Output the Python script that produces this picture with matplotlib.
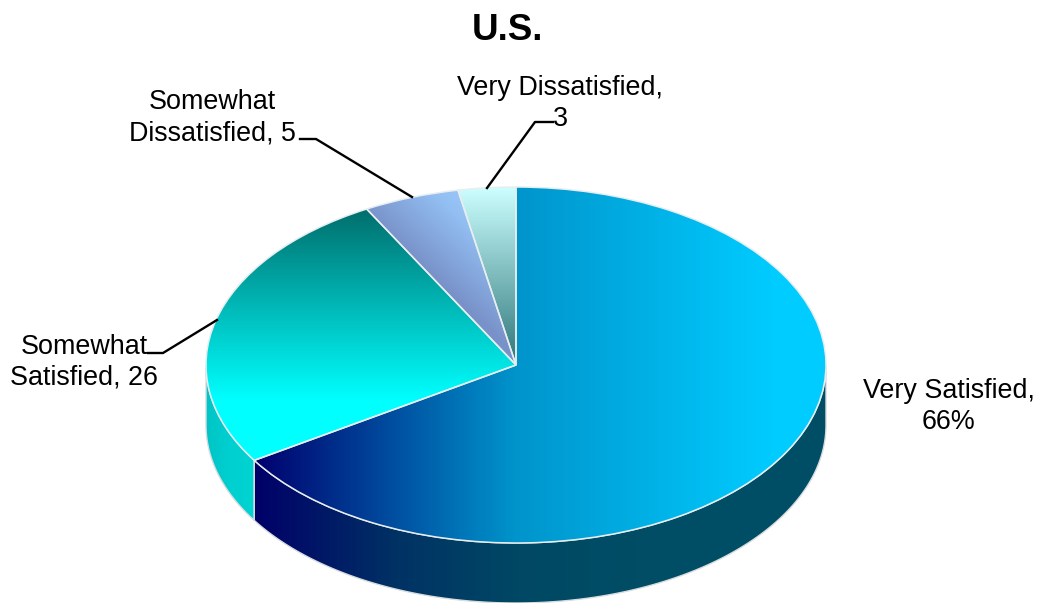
import numpy as np
import matplotlib
matplotlib.use('Agg')
import matplotlib.pyplot as plt
from matplotlib.colors import LinearSegmentedColormap
from matplotlib.lines import Line2D
from matplotlib.patches import Polygon

plt.rcParams['font.family'] = ['Liberation Sans', 'DejaVu Sans']

# data
categories = ['Very Satisfied', 'Somewhat Satisfied', 'Somewhat Dissatisfied', 'Very Dissatisfied']
values = [66, 26, 5, 3]
title = 'U.S.'

W, H = 1039, 603
CX, CY = 516, 365
RX, RY = 310, 178
DEPTH = 60 / RY

fig = plt.figure(figsize=(W / 100, H / 100), dpi=100)
ax = fig.add_axes([0, 0, 1, 1])
wedges, _ = ax.pie(values, startangle=90, counterclock=False, radius=1,
                   wedgeprops={'edgecolor': '#e8eef0', 'linewidth': 1.1, 'facecolor': 'none', 'zorder': 5})
ax.set_aspect('auto')
xlim = (-CX / RX, (W - CX) / RX)
ylim = (-(H - CY) / RY, CY / RY)

xx, yy = np.meshgrid(np.arange(W) + 0.5, np.arange(H) + 0.5)


def rgb(*c):
    return tuple(v / 255 for v in c)


def paint(patch, p0, p1, positions, colors, z):
    # linear gradient between two pixel points, clipped to the patch
    dx, dy = p1[0] - p0[0], p1[1] - p0[1]
    t = ((xx - p0[0]) * dx + (yy - p0[1]) * dy) / (dx * dx + dy * dy)
    cmap = LinearSegmentedColormap.from_list('g', list(zip(positions, colors)), N=512)
    im = ax.imshow(np.clip(t, 0, 1), cmap=cmap, vmin=0, vmax=1, extent=(*xlim, *ylim),
                   aspect='auto', origin='upper', interpolation='bilinear', zorder=z)
    im.set_clip_path(patch)


def side_patch(t1, t2):
    # outer wall between two angles of the lower half of the ellipse
    a = np.radians(np.linspace(t1, t2, 200))
    top = np.column_stack([np.cos(a), np.sin(a)])
    bottom = top[::-1] - [0, DEPTH]
    p = Polygon(np.vstack([top, bottom]), closed=True, facecolor='none',
                edgecolor='#d8dcde', linewidth=1.0, zorder=3)
    ax.add_patch(p)
    return p


# the slices run clockwise from the top, so only the first two reach the front wall
boundary = 90 - 360 * values[0] / sum(values)
sat, some_sat, some_dis, very_dis = wedges
side_sat = side_patch(boundary, 0)
paint(side_sat, (255, 0), (660, 0), [0, 0.35, 0.65, 1],
      [rgb(0, 0, 105), rgb(0, 50, 100), rgb(0, 72, 100), rgb(0, 78, 102)], 2)
side_some = side_patch(-180, boundary)
paint(side_some, (206, 0), (255, 0), [0, 0.5, 1], [rgb(0, 196, 198), rgb(0, 208, 208), rgb(0, 210, 210)], 2)

paint(sat, (255, 0), (775, 0), [0, 0.5, 1],
      [rgb(0, 0, 110), rgb(0, 148, 203), rgb(0, 204, 255)], 4)
paint(some_sat, (0, 209), (0, 400), [0, 1], [rgb(0, 110, 108), rgb(0, 255, 255)], 4)
paint(some_dis, (440, 285), (490, 232), [0, 0.85, 1],
      [rgb(120, 145, 200), rgb(146, 190, 242), rgb(150, 195, 245)], 4)
paint(very_dis, (0, 187), (0, 365), [0, 1], [rgb(205, 255, 255), rgb(45, 118, 122)], 4)

ax.set_xlim(*xlim)
ax.set_ylim(*ylim)
ax.axis('off')


def label(x, y, s, **kw):
    fig.text(x / W, 1 - y / H, s, ha='center', va='center', color='black', **kw)


def leader(xs, ys):
    fig.add_artist(Line2D([x / W for x in xs], [1 - y / H for y in ys],
                          color='black', linewidth=1.7, transform=fig.transFigure))


label(507, 31, title, fontsize=26.5, fontweight='bold')
fs = 19.4
label(948.5, 391, 'Very Satisfied,', fontsize=fs)
label(948.5, 422, '66%', fontsize=fs)
label(84, 347, 'Somewhat', fontsize=fs)
label(84, 378, f'Satisfied, {values[1]}', fontsize=fs)
label(212, 102, 'Somewhat', fontsize=fs)
label(212, 133, f'Dissatisfied, {values[2]}', fontsize=fs)
label(560, 88, 'Very Dissatisfied,', fontsize=fs)
label(560, 119, f'{values[3]}', fontsize=fs)

leader([148, 163, 217], [353, 353, 320])
leader([300, 316, 412], [139, 139, 197])
leader([553, 535, 487], [122, 122, 188])

fig.savefig('out.png', dpi=100, facecolor='white')
